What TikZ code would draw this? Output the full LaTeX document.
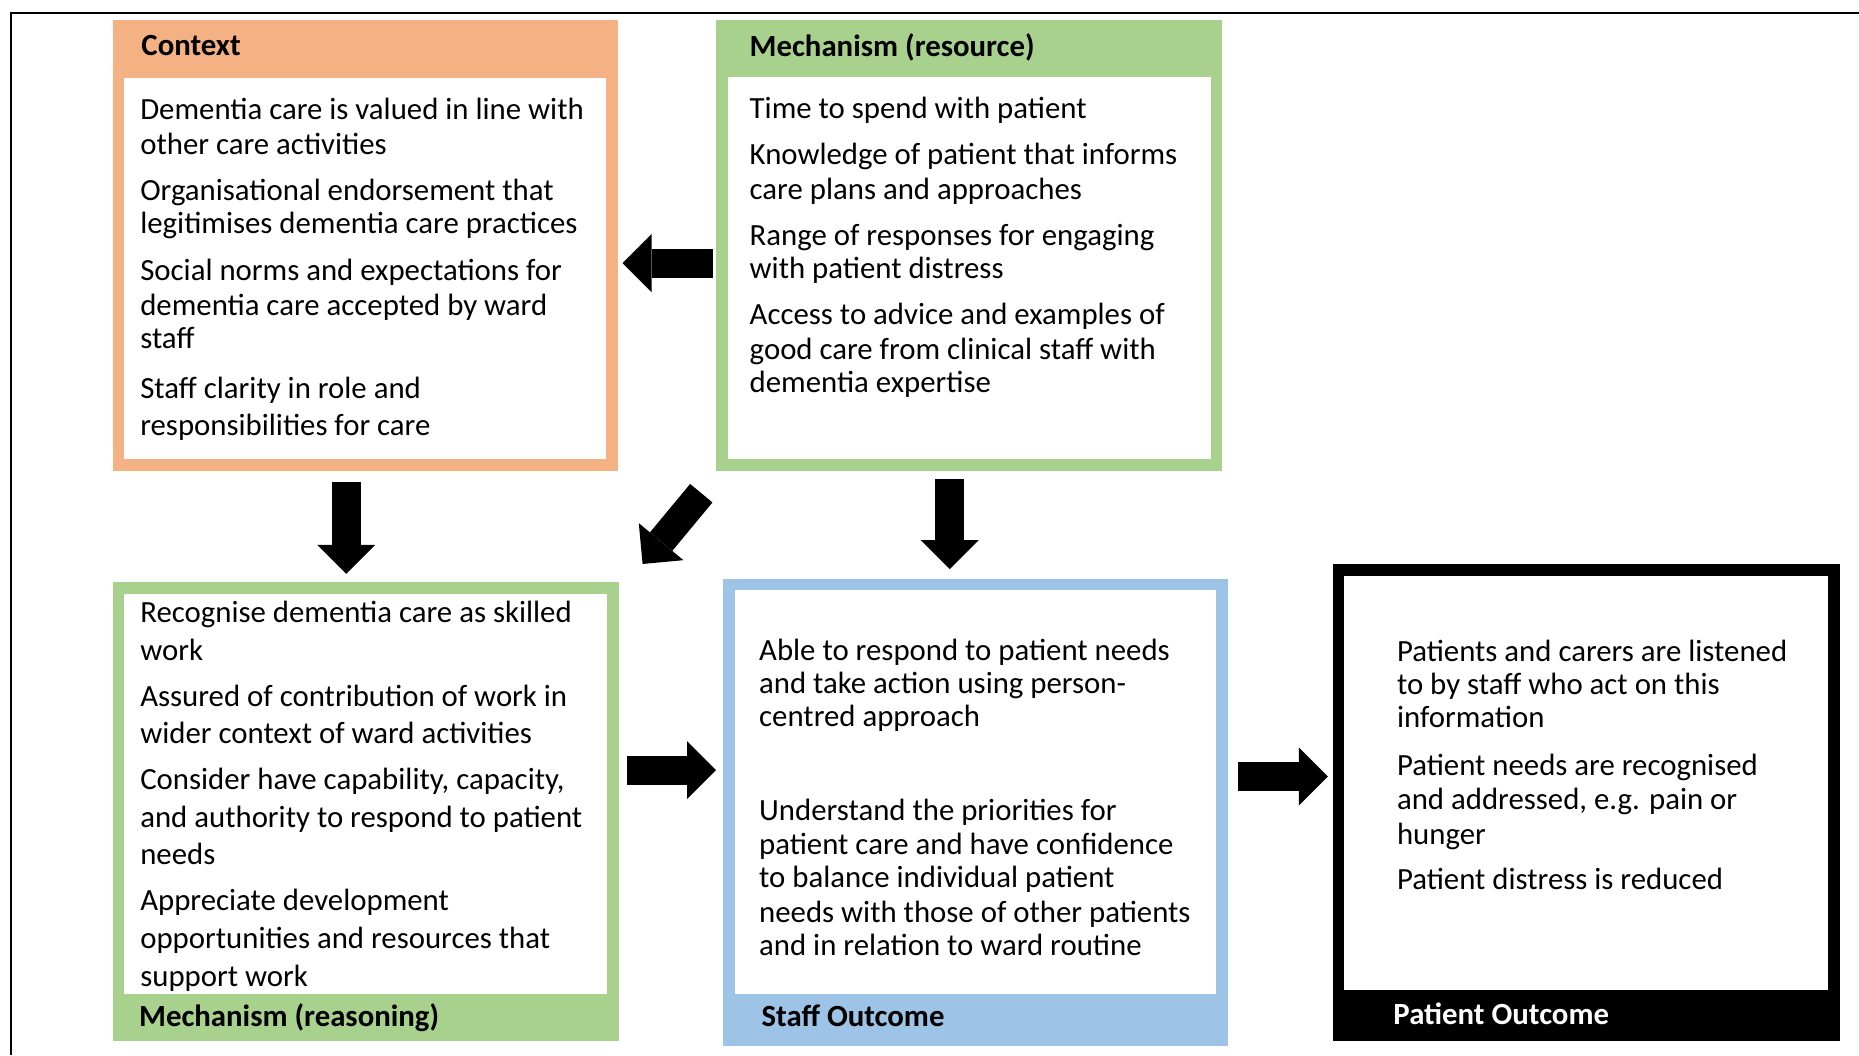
\documentclass[tikz,border=0pt]{standalone}
\usepackage{fontspec}
\setmainfont{Carlito}
\usetikzlibrary{arrows.meta,fit}
\definecolor{ctxorange}{HTML}{F4B183}
\definecolor{mgreen}{HTML}{A9D18E}
\definecolor{oblue}{HTML}{9DC3E6}
\tikzset{
  panel/.style={inner sep=0pt, outer sep=0pt},
  txt/.style={anchor=west, inner sep=0pt, text height=12pt, text depth=1.4pt,
    font=\fontsize{15.4}{18}\selectfont},
  hdr/.style={txt, font=\fontsize{15.4}{18}\selectfont\bfseries},
  blk/.style={line width=14.5pt, draw=black,
    -{Triangle[length=14.5pt,width=29pt,line width=0pt]}},
}
\begin{document}
\begin{tikzpicture}[x=0.5928pt,y=-0.5928pt]
\useasboundingbox (0,0) rectangle (1568,890);
\fill[white] (0,0) rectangle (1568,890);
% outer frame (cropped screenshot)
\draw[line width=1.1pt] (9.5,890) -- (9.5,11) -- (1568,11);

% ---------- panels ----------
\node[panel, fill=ctxorange, fit={(95,17) (521,397)}] (ctx) {};
\node[panel, fill=white, fit={(105,66) (511,387)}] (ctxin) {};
\node[panel, fill=mgreen, fit={(604,17) (1031,397)}] (mres) {};
\node[panel, fill=white, fit={(614,65) (1021,387)}] (mresin) {};
\node[panel, fill=mgreen, fit={(95,491) (522,878)}] (reas) {};
\node[panel, fill=white, fit={(105,501) (512,838)}] (reasin) {};
\node[panel, fill=oblue, fit={(610,488) (1036,882)}] (staff) {};
\node[panel, fill=white, fit={(620,498) (1026,838)}] (staffin) {};
\node[panel, fill=black, fit={(1124,476) (1552,878)}] (pat) {};
\node[panel, fill=white, fit={(1134,486) (1542,835)}] (patin) {};

% ---------- headers ----------
\node[hdr] (ctx-h) at (119,38) {Context};
\node[hdr] (mres-h) at (632,39) {Mechanism (resource)};
\node[hdr] (reas-h) at (117,857) {Mechanism (reasoning)};
\node[hdr] (staff-h) at (642,857) {Staff Outcome};
\node[hdr, text=white] (pat-h) at (1175,855) {Patient Outcome};

% ---------- texts ----------
\foreach \y/\t [count=\i] in {
  92/Dementia care is valued in line with,
  121/other care activities,
  160/Organisational endorsement that,
  188/legitimises dementia care practices,
  228/Social norms and expectations for,
  257/dementia care accepted by ward,
  285/staff,
  327/Staff clarity in role and,
  358/responsibilities for care}
  \node[txt] (ctx-t\i) at (118,\y) {\t};

\foreach \y/\t [count=\i] in {
  91/Time to spend with patient,
  130/Knowledge of patient that informs,
  159/care plans and approaches,
  198/Range of responses for engaging,
  226/with patient distress,
  265/Access to advice and examples of,
  294/good care from clinical staff with,
  322/dementia expertise}
  \node[txt] (mres-t\i) at (632,\y) {\t};

\foreach \y/\t [count=\i] in {
  516/Recognise dementia care as skilled,
  548/work,
  587/Assured of contribution of work in,
  618/wider context of ward activities,
  657/{Consider have capability, capacity,},
  689/and authority to respond to patient,
  720/needs,
  759/Appreciate development,
  791/opportunities and resources that,
  823/support work}
  \node[txt] (reas-t\i) at (118,\y) {\t};

\foreach \y/\t [count=\i] in {
  548/Able to respond to patient needs,
  576/and take action using person-,
  604/centred approach,
  683/Understand the priorities for,
  712/patient care and have confidence,
  740/to balance individual patient,
  769/needs with those of other patients,
  797/and in relation to ward routine}
  \node[txt] (staff-t\i) at (640,\y) {\t};

\foreach \y/\t [count=\i] in {
  549/Patients and carers are listened,
  577/to by staff who act on this,
  605/information,
  645/Patient needs are recognised,
  674/{and addressed, e.g. pain or},
  703/hunger,
  741/Patient distress is reduced}
  \node[txt] (pat-t\i) at (1178,\y) {\t};

% ---------- connectors ----------
\coordinate (yA) at (0,222);
\coordinate (xB) at (292,0);
\coordinate (xD) at (801,0);
\coordinate (yE) at (0,649.5);
\coordinate (yF) at (0,655);
\coordinate (diagS) at (591.5,416);
\coordinate (diagE) at (542,475.7);

\draw[blk, shorten <=1.8pt, shorten >=2.4pt] (mres.west |- yA) -- (ctx.east |- yA);
\draw[blk, shorten <=5.9pt, shorten >=4.1pt] (ctx.south -| xB) -- (reas.north -| xB);
\draw[blk] (diagS) -- (diagE);
\draw[blk, shorten <=4.1pt, shorten >=4.7pt] (mres.south -| xD) -- (staff.north -| xD);
\draw[blk, shorten <=4.1pt, shorten >=3.6pt] (reas.east |- yE) -- (staff.west |- yE);
\draw[blk, shorten <=4.7pt, shorten >=2.4pt] (staff.east |- yF) -- (pat.west |- yF);
\end{tikzpicture}
\end{document}
